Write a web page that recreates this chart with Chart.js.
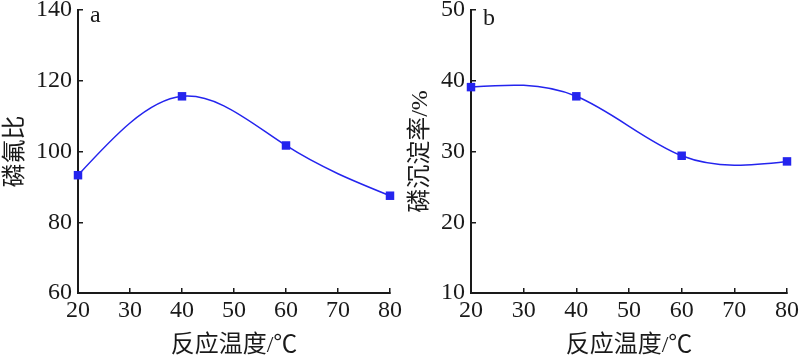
<!DOCTYPE html>
<html>
<head>
<meta charset="utf-8">
<script src="https://cdn.jsdelivr.net/npm/chart.js@4.4.1/dist/chart.umd.min.js"></script>
<style>
    html, body { margin: 0; padding: 0; background: #fff; }
    #wrap { position: relative; width: 800px; height: 363px; overflow: hidden; }
    #chartA { position: absolute; left: 0; top: 0; }
    #chartB { position: absolute; left: 400px; top: 0; }
</style>
</head>
<body>
<div id="wrap">
    <canvas id="chartA" width="420" height="363"></canvas>
    <canvas id="chartB" width="400" height="363"></canvas>
</div>
<script>
// Reaction temperature (°C) for both panels
const temperatures = [20, 40, 60, 80];
// Panel a: P/F ratio
const pfRatio = [93.3, 115.6, 101.7, 87.5];
// Panel b: phosphorus precipitation rate (%)
const precipRate = [39.1, 37.8, 29.4, 28.6];

const xTitle = '反应温度/℃';
const ink = '#1a1a1a';
const blue = '#2424ee';
const serif = "'Liberation Serif', 'Noto Sans CJK SC', serif";

// Draws the small panel letter in the top-left corner of the plot
const panelLetter = {
    id: 'panelLetter',
    afterDraw(chart, args, opts) {
        const ctx = chart.ctx;
        ctx.save();
        ctx.font = '24px ' + serif;
        ctx.fillStyle = ink;
        ctx.textBaseline = 'alphabetic';
        ctx.fillText(opts.text, chart.chartArea.left + 12, opts.baseline);
        ctx.restore();
    }
};

// Original figure uses a natural cubic spline, so set the bezier control
// points from the (already scaled) point positions before the line is drawn
const naturalSpline = {
    id: 'naturalSpline',
    beforeDatasetDraw(chart, args) {
        const pts = args.meta.data;
        const n = pts.length;
        if (n < 3) return;
        const x = pts.map(p => p.x), y = pts.map(p => p.y);
        const h = [];
        for (let i = 0; i < n - 1; i++) h.push(x[i + 1] - x[i]);
        // tridiagonal system for the inner second derivatives (Thomas algorithm)
        const a = [], b = [], c = [], d = [];
        for (let i = 1; i < n - 1; i++) {
            a.push(h[i - 1]);
            b.push(2 * (h[i - 1] + h[i]));
            c.push(h[i]);
            d.push(6 * ((y[i + 1] - y[i]) / h[i] - (y[i] - y[i - 1]) / h[i - 1]));
        }
        const m = a.length;
        for (let i = 1; i < m; i++) {
            const w = a[i] / b[i - 1];
            b[i] -= w * c[i - 1];
            d[i] -= w * d[i - 1];
        }
        const inner = new Array(m);
        inner[m - 1] = d[m - 1] / b[m - 1];
        for (let i = m - 2; i >= 0; i--) inner[i] = (d[i] - c[i] * inner[i + 1]) / b[i];
        const M = [0, ...inner, 0];

        pts[0].cp1x = x[0]; pts[0].cp1y = y[0];
        pts[n - 1].cp2x = x[n - 1]; pts[n - 1].cp2y = y[n - 1];
        for (let i = 0; i < n - 1; i++) {
            const s = (y[i + 1] - y[i]) / h[i];
            const d0 = s - h[i] * (2 * M[i] + M[i + 1]) / 6;
            const d1 = s + h[i] * (M[i] + 2 * M[i + 1]) / 6;
            pts[i].cp2x = x[i] + h[i] / 3;
            pts[i].cp2y = y[i] + d0 * h[i] / 3;
            pts[i + 1].cp1x = x[i + 1] - h[i] / 3;
            pts[i + 1].cp1y = y[i + 1] - d1 * h[i] / 3;
        }
        args.meta.dataset._pointsUpdated = true;
        args.meta.dataset._path = undefined;
    }
};

function makeChart(id, values, cfg) {
    const points = temperatures.map((t, i) => ({ x: t, y: values[i] }));
    return new Chart(document.getElementById(id), {
        type: 'line',
        data: {
            datasets: [{
                data: points,
                borderColor: blue,
                backgroundColor: blue,
                borderWidth: 1.5,
                tension: 0.4,
                pointStyle: 'rect',
                pointRadius: 6,
                pointHoverRadius: 6,
                pointBorderWidth: 0,
                clip: false
            }]
        },
        options: {
            responsive: false,
            animation: false,
            events: [],
            layout: { padding: { left: 0, right: cfg.padRight, top: 10, bottom: 0 } },
            plugins: {
                legend: { display: false },
                tooltip: { enabled: false },
                panelLetter: { text: cfg.letter, baseline: cfg.letterBase }
            },
            scales: {
                x: {
                    type: 'linear',
                    min: 20,
                    max: 80,
                    afterBuildTicks: s => { s.ticks = [20, 30, 40, 50, 60, 70, 80].map(v => ({ value: v })); },
                    afterFit: s => { s.height = 70; s.paddingLeft = 0; s.paddingRight = 0; },
                    border: { color: ink, width: 2 },
                    grid: { drawOnChartArea: false, tickLength: -5, color: ink, lineWidth: 1.5 },
                    ticks: { color: ink, padding: 8, maxRotation: 0, font: { family: serif, size: 24 } },
                    title: {
                        display: true,
                        text: xTitle,
                        color: ink,
                        padding: { top: 0, bottom: 3 },
                        font: { family: serif, size: 24 }
                    }
                },
                y: {
                    min: cfg.yMin,
                    max: cfg.yMax,
                    ticks: { stepSize: cfg.yStep, color: ink, padding: 11, font: { family: serif, size: 24 } },
                    afterFit: s => { s.width = cfg.yWidth; s.paddingTop = 0; s.paddingBottom = 0; },
                    border: { color: ink, width: 2 },
                    grid: { drawOnChartArea: false, tickLength: -5, color: ink, lineWidth: 1.5 },
                    title: {
                        display: true,
                        text: cfg.yTitle,
                        color: ink,
                        padding: { top: cfg.yTitlePad, bottom: 0 },
                        font: { family: serif, size: 24 }
                    }
                }
            }
        },
        plugins: [panelLetter, naturalSpline]
    });
}

makeChart('chartA', pfRatio, {
    letter: 'a', letterBase: 22, padRight: 30, yWidth: 78,
    yMin: 60, yMax: 140, yStep: 20, yTitle: '磷氟比', yTitlePad: 1
});
makeChart('chartB', precipRate, {
    letter: 'b', letterBase: 25, padRight: 13, yWidth: 71,
    yMin: 10, yMax: 50, yStep: 10, yTitle: '磷沉淀率/%', yTitlePad: 6
});
</script>
</body>
</html>
